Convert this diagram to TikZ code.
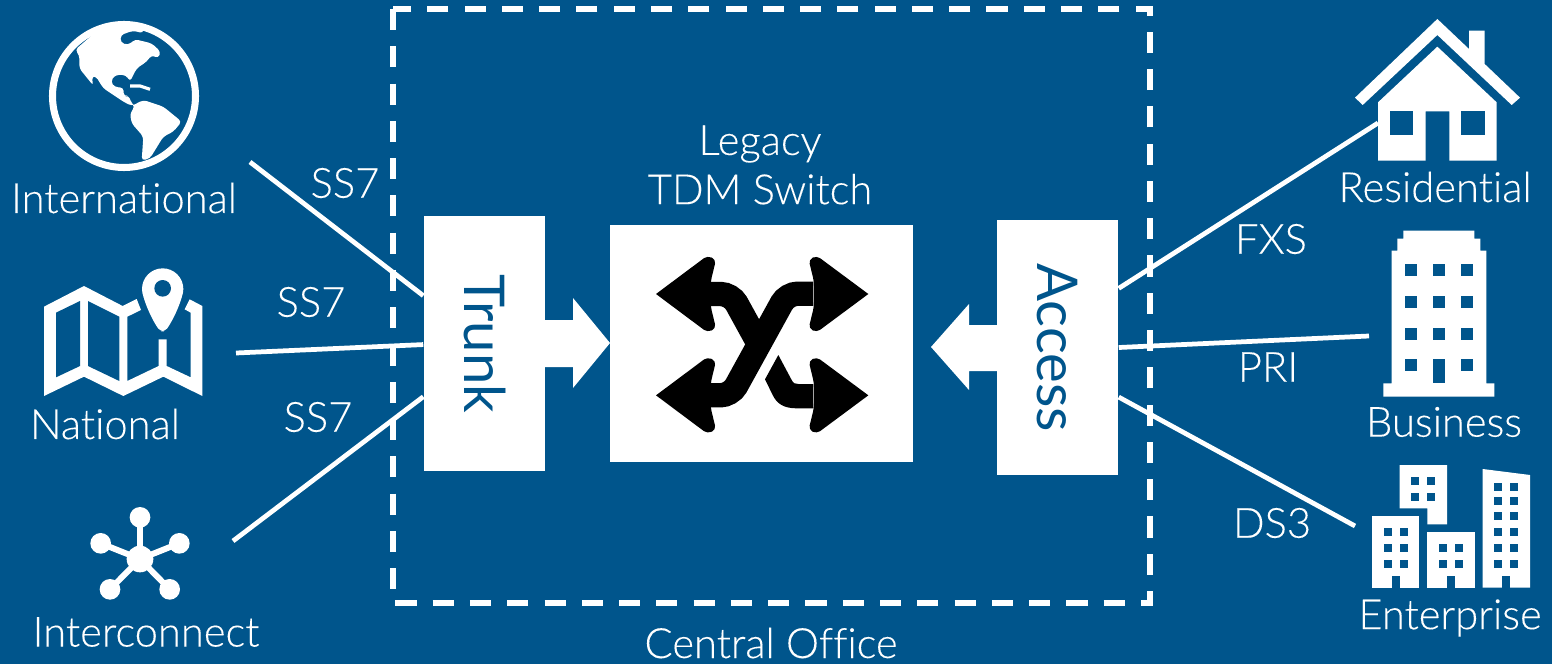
\documentclass[tikz,border=0pt]{standalone}
\usepackage{fontspec}
\setmainfont[Ligatures=NoCommon,FakeBold=0.15]{Lato Light}
\newfontfamily\boxfont[Ligatures=NoCommon]{Lato}
\definecolor{bgblue}{HTML}{00558C}
\tikzset{
	lbl/.style={text=white,font=\fontsize{11.85pt}{14pt}\selectfont,inner sep=0pt,align=center},
	wire/.style={white,line width=1.35pt},
	sidebox/.style={fill=white,inner sep=0pt,minimum width=1.21cm,minimum height=2.55cm,text=bgblue,font=\boxfont\fontsize{16pt}{18pt}\selectfont},
	hole/.style={fill=bgblue}
}
\begin{document}
\begin{tikzpicture}[x=0.01cm,y=-0.01cm]
	\fill[bgblue] (0,0) rectangle (1552,664);
	\useasboundingbox (0,0) rectangle (1552,664);

	% central office
	\draw[white,line width=1.55pt,dash pattern=on 6pt off 4.6pt] (393,9) rectangle (1150,603);
	\node[lbl] (office) at (771,643) {Central Office};

	% boxes
	\node[sidebox] (trunk) at (484.5,343.5) {\rotatebox{-90}{Trunk}};
	\node[sidebox] (access) at (1057.5,347.5) {\rotatebox{-90}{Access}};
	\node[fill=white,minimum width=3.03cm,minimum height=2.37cm,inner sep=0pt] (switch) at (761.5,343.5) {};
	\node[lbl] (legacy) at (760,165) {Legacy\\TDM Switch};

	% block arrows
	\fill[white] (545,320) -- (573,320) -- (573,298) -- (610,343) -- (573,388) -- (573,367) -- (545,367) -- cycle;
	\fill[white] (997,325) -- (969,325) -- (969,304) -- (931,347) -- (969,390) -- (969,371) -- (997,371) -- cycle;

	% switch icon
	\begin{scope}[shift={(600,220)},scale=1/3]
		\draw[black,line width=6.9pt,rounded corners=3pt] (640,221) -- (561,221) -- (393,526) -- (330,526);
		\draw[black,line width=6.9pt,rounded corners=3pt] (330,222) -- (394,222) -- (477,373);
		\fill[black] (535,405) -- (575,480) .. controls (580,490) and (585,492) .. (595,492) -- (640,492) -- (640,565) -- (590,565) .. controls (550,565) and (530,550) .. (518,525) -- (495,478) -- cycle;
		\foreach \y in {222,526} {
			\fill[black] (168,\y) [rounded corners=1.2pt] -- ({322},{\y-115}) -- ({348},{\y-103}) -- ({332},{\y-37}) -- ({332},{\y+37}) -- ({348},{\y+103}) -- ({322},{\y+115}) [sharp corners] -- cycle;
			\fill[black] (805,\y) [rounded corners=1.2pt] -- ({650},{\y-115}) -- ({626},{\y-103}) -- ({642},{\y-37}) -- ({642},{\y+37}) -- ({626},{\y+103}) -- ({650},{\y+115}) [sharp corners] -- cycle;
		}
	\end{scope}

	% globe
	\draw[white,line width=2pt] (124,96) circle (71.5);
	\begin{scope}[scale=1/3]
		\fill[white,rounded corners=1pt] (225,150) -- (238,165) -- (238,205) -- (280,257) -- (275,230) -- (287,228) -- (310,265) -- (345,288) -- (370,305) -- (395,318) -- (430,300) -- (490,320) -- (545,365) -- (520,395) -- (490,410) -- (450,475) -- (425,482) -- (430,410) -- (395,370) -- (390,340) -- (405,320) -- (395,310) -- (385,285) -- (372,290) -- (370,262) -- (345,262) -- (332,245) -- (345,225) -- (378,225) -- (390,245) -- (410,205) -- (440,185) -- (455,165) -- (475,175) -- (482,155) -- (455,130) -- (405,118) -- (385,135) -- (362,128) -- (362,105) -- (400,92) -- (430,100) -- (430,78) -- (370,72) -- (300,85) -- cycle;
		\draw[white,line width=0.9pt] (390,258) -- (420,258) -- (450,268);
	\end{scope}
	\node[lbl] (intl) at (124,198) {International};

	% map
	\begin{scope}[shift={(20,260)},scale=1/3]
		\fill[white] (72,140) -- (192,78) -- (308,138) -- (350,117) -- (363,150) -- (322,170) -- (322,363) -- (416,318) -- (416,238) -- (440,238) -- (440,318) -- (512,352) -- (512,158) -- (494,148) -- (509,118) -- (547,138) -- (547,408) -- (430,350) -- (310,408) -- (192,350) -- (72,408) -- cycle;
		\fill[hole] (108,158) -- (180,123) -- (180,318) -- (108,352) -- cycle;
		\fill[hole] (204,123) -- (298,170) -- (298,363) -- (204,318) -- cycle;
		\fill[white] (428,87) circle (62);
		\fill[white,rounded corners=1pt] (368,102) .. controls (385,160) and (410,200) .. (422,214) -- (434,214) .. controls (446,200) and (471,160) .. (488,102) -- cycle;
		\fill[hole] (428,85) circle (25);
	\end{scope}
	\node[lbl] (natl) at (105,424) {National};

	% interconnect
	\begin{scope}[shift={(70,490)},scale=1/3]
		\foreach \px/\py in {210/82,92/160,328/160,120/298,299/298} {
			\draw[white,line width=1.7pt] (210,207) -- (\px,\py);
			\fill[white] (\px,\py) circle (31);
		}
		\fill[white] (210,207) circle (40);
	\end{scope}
	\node[lbl] (inter) at (146,632) {Interconnect};

	% house
	\begin{scope}[shift={(1340,10)},scale=1/3]
		\fill[white] (292,27) -- (387,117) -- (387,62) -- (434,62) -- (434,162) -- (540,263) -- (515,285) -- (292,75) -- (68,285) -- (45,263) -- cycle;
		\fill[white] (292,110) -- (470,277) -- (470,452) -- (328,452) -- (328,304) -- (257,304) -- (257,452) -- (114,452) -- (114,277) -- cycle;
		\fill[hole] (150,304) rectangle (220,376);
		\fill[hole] (363,304) rectangle (434,376);
	\end{scope}
	\node[lbl] (resi) at (1435,187) {Residential};

	% business
	\begin{scope}[shift={(1370,220)},scale=1/3]
		\fill[white] (100,32) -- (313,32) -- (313,56) -- (331,56) -- (331,92) -- (349,92) -- (349,490) -- (373,490) -- (373,530) -- (40,530) -- (40,490) -- (65,490) -- (65,92) -- (82,92) -- (82,56) -- (100,56) -- cycle;
		\foreach \wx in {106,189,272}
			\foreach \wy in {133,228,323,418}
				\fill[hole] (\wx,\wy) rectangle ({\wx+36},{\wy+36});
		\fill[hole] (189,418) rectangle (225,490);
	\end{scope}
	\node[lbl] (biz) at (1444,422) {Business};

	% enterprise
	\begin{scope}[shift={(1350,455)},scale=1/3]
		\fill[white] (149,30) -- (291,30) -- (291,208) -- (232,208) -- (232,160) -- (149,160) -- cycle;
		\fill[white] (66,184) rectangle (208,398);
		\fill[white] (232,232) rectangle (374,398);
		\fill[white] (398,42) -- (540,60) -- (540,398) -- (398,398) -- cycle;
		\foreach \wx in {184,232}
			\foreach \wy in {66,113}
				\fill[hole] (\wx,\wy) rectangle ({\wx+24},{\wy+24});
		\foreach \wx in {101,149}
			\foreach \wy in {220,268,315}
				\fill[hole] (\wx,\wy) rectangle ({\wx+24},{\wy+24});
		\foreach \wx in {267,315}
			\foreach \wy in {268,315}
				\fill[hole] (\wx,\wy) rectangle ({\wx+24},{\wy+24});
		\foreach \wx in {433,481}
			\foreach \wy in {83,125,172,220,268,315}
				\fill[hole] (\wx,\wy) rectangle ({\wx+24},{\wy+24});
		\fill[hole] (125,362) rectangle (149,398);
		\fill[hole] (291,362) rectangle (315,398);
		\fill[hole] (457,362) rectangle (481,398);
	\end{scope}
	\node[lbl] (entp) at (1450,618) {Enterprise};

	% connectors
	\coordinate (intlend) at (250,162);
	\coordinate (natlend) at (236,353);
	\coordinate (interend) at (233,541);
	\coordinate (resiend) at (1378,123);
	\coordinate (bizend) at (1369,336);
	\coordinate (entpend) at (1355,526);
	\draw[wire] (intlend) -- (trunk.142);
	\draw[wire] (natlend) -- (trunk.181);
	\draw[wire] (interend) -- (trunk.221);
	\draw[wire] (access.44) -- (resiend);
	\draw[wire] (access.0) -- (bizend);
	\draw[wire] (access.-39) -- (entpend);

	% connector labels
	\node[lbl] (ss7a) at (345,183) {SS7};
	\node[lbl] (ss7b) at (311,302) {SS7};
	\node[lbl] (ss7c) at (318,417) {SS7};
	\node[lbl] (fxs) at (1271,239) {FXS};
	\node[lbl] (pri) at (1268,367) {PRI};
	\node[lbl] (ds3) at (1272,523) {DS3};
\end{tikzpicture}
\end{document}
